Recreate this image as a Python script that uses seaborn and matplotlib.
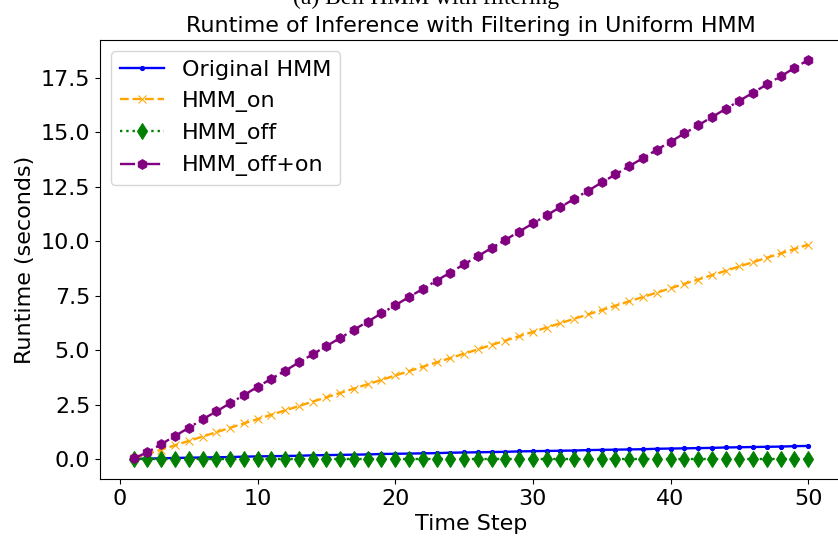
import matplotlib
matplotlib.use("Agg")
import matplotlib.pyplot as plt
import seaborn as sns
import pandas as pd

time_steps = list(range(1, 51))
original_hmm = [0.03, 0.04, 0.05, 0.07, 0.08, 0.09, 0.10, 0.11, 0.13, 0.14,
                0.15, 0.16, 0.17, 0.19, 0.20, 0.21, 0.22, 0.23, 0.25, 0.26,
                0.27, 0.28, 0.29, 0.31, 0.32, 0.33, 0.34, 0.35, 0.37, 0.38,
                0.39, 0.40, 0.41, 0.43, 0.44, 0.45, 0.46, 0.47, 0.49, 0.50,
                0.51, 0.52, 0.53, 0.55, 0.56, 0.57, 0.58, 0.59, 0.61, 0.62]
hmm_on = [0.05, 0.25, 0.45, 0.65, 0.85, 1.05, 1.25, 1.45, 1.65, 1.85,
          2.05, 2.25, 2.45, 2.65, 2.85, 3.05, 3.25, 3.45, 3.65, 3.85,
          4.05, 4.25, 4.45, 4.65, 4.85, 5.05, 5.25, 5.45, 5.65, 5.85,
          6.05, 6.25, 6.45, 6.65, 6.85, 7.05, 7.25, 7.45, 7.65, 7.85,
          8.05, 8.25, 8.45, 8.65, 8.85, 9.05, 9.25, 9.45, 9.65, 9.85]
hmm_off = [0.02] * 50
hmm_off_on = [0.05, 0.33, 0.70, 1.08, 1.45, 1.84, 2.20, 2.58, 2.95, 3.33,
              3.70, 4.07, 4.45, 4.82, 5.20, 5.57, 5.95, 6.32, 6.70, 7.07,
              7.45, 7.82, 8.20, 8.57, 8.95, 9.32, 9.70, 10.07, 10.45, 10.82,
              11.20, 11.57, 11.95, 12.32, 12.70, 13.07, 13.45, 13.82, 14.20, 14.57,
              14.95, 15.32, 15.70, 16.07, 16.45, 16.82, 17.20, 17.57, 17.95, 18.32]

series_names = ["Original HMM", "HMM_on", "HMM_off", "HMM_off+on"]
series_values = [original_hmm, hmm_on, hmm_off, hmm_off_on]

styles = {
    "Original HMM": dict(color="blue", linestyle="-", marker=".", markersize=6),
    "HMM_on": dict(color="orange", linestyle="--", marker="x", markersize=6),
    "HMM_off": dict(color="green", linestyle=":", marker="d", markersize=8),
    "HMM_off+on": dict(color="purple", linestyle="-.", marker="h", markersize=7),
}

fig = plt.figure(figsize=(8.38, 5.38), dpi=100)
ax = fig.add_axes([0.1193, 0.1097, 0.8854, 0.816])

for name, vals in zip(series_names, series_values):
    df = pd.DataFrame({"t": time_steps, "v": vals})
    st = styles[name]
    sns.lineplot(data=df, x="t", y="v", ax=ax, label=name, color=st["color"],
                 linestyle=st["linestyle"], marker=st["marker"],
                 markersize=st["markersize"], markeredgecolor=st["color"],
                 linewidth=1.7)

ax.set_title("Runtime of Inference with Filtering in Uniform HMM", fontsize=16)
ax.set_xlabel("Time Step", fontsize=16)
ax.set_ylabel("Runtime (seconds)", fontsize=16)
ax.tick_params(labelsize=16)
ax.set_xticks([0, 10, 20, 30, 40, 50])
ax.set_yticks([0, 2.5, 5, 7.5, 10, 12.5, 15, 17.5])
ax.set_yticklabels(["0.0", "2.5", "5.0", "7.5", "10.0", "12.5", "15.0", "17.5"])
ax.legend(loc="upper left", fontsize=16)

fig.text(426 / 838, 1 - 4 / 538, "(a) Bell HMM with filtering",
         family="Liberation Serif", fontsize=17, ha="center", va="baseline")

fig.savefig("out.png", dpi=100)
